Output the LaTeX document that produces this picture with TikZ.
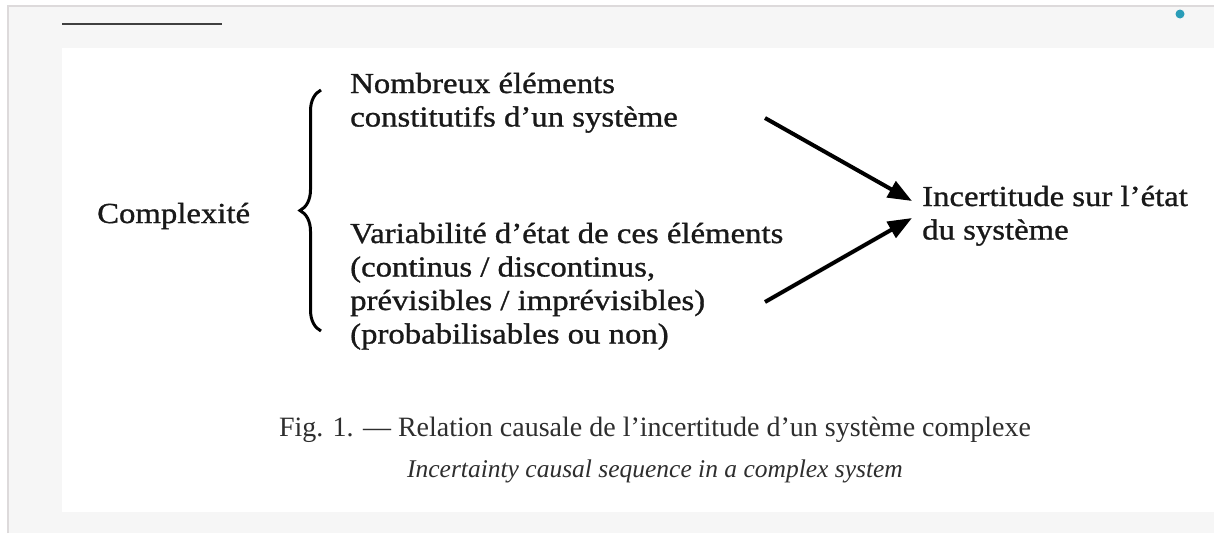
\documentclass[tikz,border=0pt]{standalone}
\usepackage{fontspec}
\usetikzlibrary{arrows.meta,decorations.pathreplacing}
\setmainfont{Liberation Serif}
\newfontfamily\schola[FakeStretch=1.13,FakeBold=1]{Liberation Serif}
\definecolor{pagegrey}{HTML}{F6F6F6}
\definecolor{rulegrey}{HTML}{DDDADB}
\definecolor{dotblue}{HTML}{2A9DB8}
\definecolor{capgrey}{HTML}{2E2E2E}

\begin{document}
\begin{tikzpicture}[x=1pt,y=-1pt,>={Triangle[length=24pt,width=18pt]},
  txt/.style={inner sep=0pt,align=left,text=black!90,font=\schola\fontsize{29}{33.5}\selectfont},
  captext/.style={inner sep=0pt,text=capgrey}]
\useasboundingbox (0,0) rectangle (1214,533);
% page
\fill[pagegrey] (8,6) rectangle (1214,533);
\fill[white] (62,48) rectangle (1214,512);
\draw[rulegrey,line width=2pt] (8,533) -- (8,6) -- (1214,6);
\draw[black!75,line width=1.5pt] (62,24) -- (222,24);
\fill[dotblue] (1180,14) circle (4.5);

% texts (base = last line)
\node[txt,anchor=base west] (cplx) at (97,223) {Complexité};
\node[txt,anchor=base west] (nomb) at (350,126.5) {Nombreux éléments\\constitutifs d’un système};
\node[txt,anchor=base west] (vari) at (350,343.5) {Variabilité d’état de ces éléments\\(continus / discontinus,\\prévisibles / imprévisibles)\\(probabilisables ou non)};
\node[txt,anchor=base west] (inc) at (922,239.5) {Incertitude sur l’état\\du système};

% brace
\coordinate (bbot) at (321,331);
\coordinate (btop) at (321,90);
\draw[line width=3pt,decorate,decoration={brace,amplitude=21pt}] (bbot) -- (btop);

% arrows
\coordinate (a1) at (765,118);
\coordinate (t1) at (912,201);
\coordinate (a2) at (765,302);
\coordinate (t2) at (912,218);
\draw[->,line width=4pt] (a1) -- (t1);
\draw[->,line width=4pt] (a2) -- (t2);

\node[captext,font=\fontsize{28}{30}\selectfont,anchor=base] (fig) at (655,436) {Fig. 1. — Relation causale de l’incertitude d’un système complexe};
\node[captext,font=\itshape\fontsize{25.5}{30}\selectfont,anchor=base] (eng) at (655,477) {Incertainty causal sequence in a complex system};
\end{tikzpicture}
\end{document}
